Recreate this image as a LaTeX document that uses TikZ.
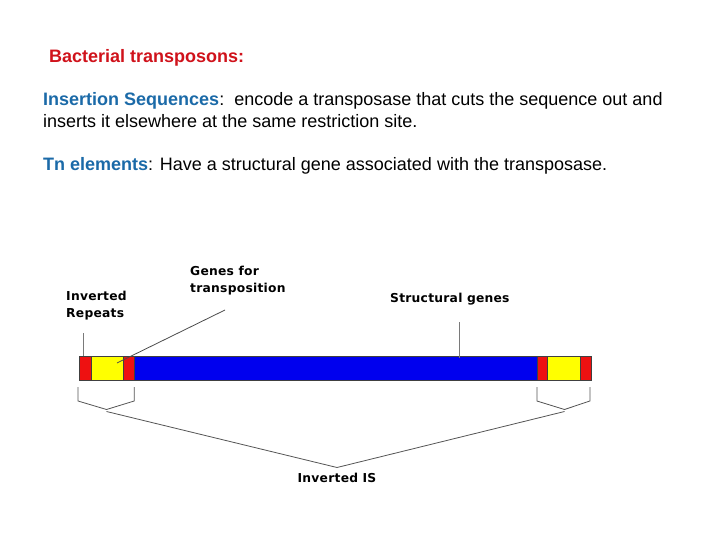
\documentclass[tikz,border=0pt]{standalone}
\usepackage{fontspec}
\setmainfont{Liberation Sans}
\newfontfamily\tagfont[LetterSpace=2]{DejaVu Sans}
\usetikzlibrary{positioning,calc}
\definecolor{TitleRed}{HTML}{D0121B}
\definecolor{TermBlue}{HTML}{1B6AA8}
\definecolor{BarBlue}{HTML}{0000EE}
\definecolor{BarRed}{HTML}{EE1111}
\definecolor{BarYellow}{HTML}{FFFF00}
\definecolor{LeadGray}{HTML}{7A7A7A}
\definecolor{BraceGray}{HTML}{555555}

\tikzset{
  seg/.style={draw=black!75, line width=0.6bp, inner sep=0pt, outer sep=0pt,
    anchor=west, minimum height=24bp},
  tag/.style={inner sep=0pt, align=left, font=\tagfont\bfseries\fontsize{12.3bp}{17bp}\selectfont},
  prose/.style={inner sep=0pt, anchor=base west, font=\fontsize{18bp}{22bp}\selectfont},
  lead/.style={LeadGray, line width=0.8bp},
  brace/.style={BraceGray, line width=0.8bp}
}

\begin{document}
\begin{tikzpicture}[x=1bp,y=-1bp]
  \useasboundingbox[fill=white] (0,0) rectangle (720,540);

  % heading and text
  \node[prose, font=\bfseries\fontsize{18bp}{22bp}\selectfont, text=TitleRed] (title) at (49,63) {Bacterial transposons:};
  \node[prose] (isline) at (43,106) {\textcolor{TermBlue}{\textbf{Insertion Sequences}}:\ \ encode a transposase that cuts the sequence out and};
  \node[prose] (isline2) at (43,128) {inserts it elsewhere at the same restriction site.};
  \node[prose] (tnline) at (43,171) {\textcolor{TermBlue}{\textbf{Tn elements}}: Have a structural gene associated with the transposase.};

  % the element
  \node[seg, fill=BarRed, minimum width=11.5bp] (irL1) at (79.5,368) {};
  \node[seg, fill=BarYellow, minimum width=32.5bp] (isL) at (irL1.east) {};
  \node[seg, fill=BarRed, minimum width=10.7bp] (irL2) at (isL.east) {};
  \node[seg, fill=BarBlue, minimum width=402.7bp] (body) at (irL2.east) {};
  \node[seg, fill=BarRed, minimum width=10bp] (irR1) at (body.east) {};
  \node[seg, fill=BarYellow, minimum width=33.3bp] (isR) at (irR1.east) {};
  \node[seg, fill=BarRed, minimum width=10.7bp] (irR2) at (isR.east) {};

  % labels
  \node[tag, anchor=north west] (irtag) at (66,291) {Inverted\\Repeats};
  \node[tag, anchor=north west] (gentag) at (190,266) {Genes for\\transposition};
  \node[tag, anchor=north west] (sttag) at (390,293) {Structural genes};
  \node[tag, anchor=north] (invtag) at (337,473) {Inverted IS};

  % pointers
  \coordinate (irfoot) at (83.3,333);
  \coordinate (genfoot) at (225,310);
  \coordinate (genhead) at (117,363);
  \coordinate (stfoot) at (459.3,322);
  \draw[lead] (irfoot) -- (irfoot |- irL1.north);
  \draw[lead, black!70] (genfoot) -- (genhead);
  \draw[lead] (stfoot) -- ++(0,36);

  % brackets
  \coordinate (lapex) at (106.5,409.5);
  \coordinate (rapex) at (564.5,409.5);
  \coordinate (bigapex) at (337,467.5);
  \draw[brace] (irL1.south west) ++(-1.5,7) -- ++(0,14) -- (lapex) -- ($(irL2.south east)+(0,21)$) -- ++(0,-14);
  \draw[brace] (irR1.south west) ++(0,7) -- ++(0,14) -- (rapex) -- ($(irR2.south east)+(-1,21)$) -- ++(0,-14);
  \draw[brace] ($(lapex)+(0,2)$) -- (bigapex) -- ($(rapex)+(0,2)$);
\end{tikzpicture}
\end{document}
